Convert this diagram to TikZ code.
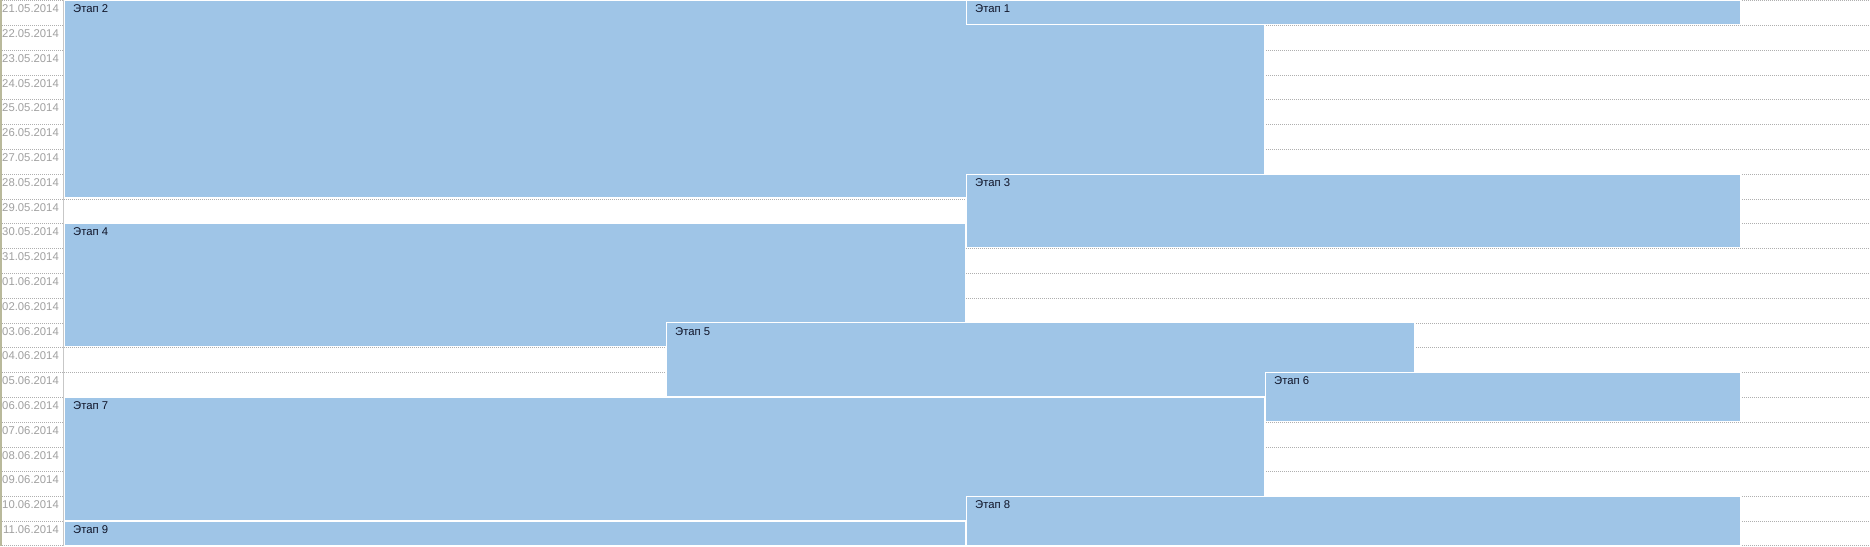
\documentclass[tikz,border=0pt]{standalone}
\usepackage{fontspec}
\setmainfont{Liberation Sans}
\definecolor{barfill}{RGB}{159,197,231}
\definecolor{datetext}{RGB}{160,160,160}
\definecolor{gridc}{RGB}{175,175,175}
\definecolor{leftc}{RGB}{185,185,155}
\definecolor{labtext}{RGB}{15,20,40}
\tikzset{
  gridline/.style={draw=gridc, line width=0.8pt, dash pattern=on 0.8pt off 1.2pt},
  barbox/.style={fill=barfill, draw=white, line width=1pt},
  datelabel/.style={anchor=base east, inner sep=0pt, text=datetext, font=\fontsize{11.3}{13}\selectfont},
  barlabel/.style={anchor=base west, inner sep=0pt, text=labtext, font=\fontsize{11.3}{13}\selectfont}
}
\begin{document}
\begin{tikzpicture}[x=1pt,y=-1pt]
\useasboundingbox (0,0) rectangle (1870,546);
\fill[white] (0,0) rectangle (1870,546);
% grid lines
\foreach \k in {0,...,22} {
  \draw[gridline] (0,{min(\k*24.8+0.5,545.5)}) -- (1870,{min(\k*24.8+0.5,545.5)});
}
\draw[gridc!70, line width=0.8pt] (63.5,0) -- (63.5,546);
\draw[leftc, line width=1.5pt] (0.75,0) -- (0.75,546);
% date labels
\foreach \d [count=\i from 0] in {21.05.2014,22.05.2014,23.05.2014,24.05.2014,25.05.2014,26.05.2014,27.05.2014,28.05.2014,29.05.2014,30.05.2014,31.05.2014,01.06.2014,02.06.2014,03.06.2014,04.06.2014,05.06.2014,06.06.2014,07.06.2014,08.06.2014,09.06.2014,10.06.2014,11.06.2014} {
  \node[datelabel] (d\i) at (59,{\i*24.8+12.6}) {\d};
}
% bars: name, x1, x2, first row, last row
\foreach \n/\xa/\xb/\ra/\rb in {2/64/1265/0/7, 1/966/1741/0/0, 3/966/1741/7/9, 4/64/966/9/13, 5/666/1415/13/15, 6/1265/1741/15/16, 7/64/1265/16/20, 8/966/1741/20/21, 9/64/966/21/21} {
  \path[barbox] (\xa+0.5,{\ra*24.8+0.5}) rectangle (\xb-0.5,{min((\rb+1)*24.8-0.5,545.5)});
  \node[barlabel] (e\n) at (\xa+9,{\ra*24.8+12.6}) {Этап \n};
}
\end{tikzpicture}
\end{document}
